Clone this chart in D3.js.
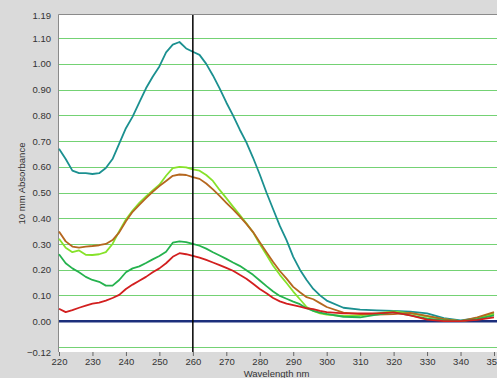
<!DOCTYPE html>
<html>
<head>
<meta charset="utf-8">
<script src="https://cdn.jsdelivr.net/npm/d3@7"></script>
<style>
  html, body { margin: 0; padding: 0; background: #dadada; }
  svg { display: block; font-family: "Liberation Sans", Arial, sans-serif; }
</style>
</head>
<body>
<script>
// wavelengths shared by every trace (nm)
const wavelengths = [220,222,224,226,228,230,232,234,236,238,240,242,244,246,248,250,252,254,256,258,260,
  262,264,266,268,270,272,274,276,278,280,282,284,286,288,290,292,294,296,298,300,305,310,315,320,325,330,335,340,345,350];

const tealTrace = [0.67,0.63,0.585,0.575,0.575,0.572,0.575,0.595,0.63,0.69,0.75,0.795,0.85,0.905,0.95,0.99,1.045,1.075,1.085,1.06,1.047,
  1.035,1.0,0.955,0.905,0.85,0.80,0.745,0.695,0.635,0.57,0.50,0.435,0.37,0.315,0.25,0.20,0.16,0.125,0.10,0.08,0.052,0.045,0.042,0.04,0.037,0.03,0.012,0.003,0.012,0.03];
const limeTrace = [0.32,0.285,0.268,0.275,0.258,0.257,0.26,0.268,0.30,0.35,0.395,0.43,0.46,0.485,0.508,0.53,0.565,0.595,0.60,0.598,0.59,
  0.585,0.568,0.545,0.51,0.478,0.445,0.413,0.38,0.345,0.30,0.258,0.215,0.18,0.148,0.115,0.085,0.055,0.04,0.03,0.025,0.02,0.022,0.03,0.038,0.03,0.018,0.008,0.0,0.01,0.028];
const brownTrace = [0.348,0.31,0.29,0.286,0.29,0.292,0.295,0.30,0.315,0.345,0.388,0.425,0.452,0.478,0.503,0.525,0.545,0.565,0.57,0.568,0.56,
  0.553,0.535,0.512,0.487,0.46,0.434,0.407,0.378,0.346,0.307,0.268,0.23,0.195,0.165,0.133,0.112,0.093,0.085,0.07,0.055,0.033,0.027,0.025,0.027,0.032,0.02,0.008,0.0,0.015,0.035];
const greenTrace = [0.26,0.225,0.205,0.19,0.172,0.16,0.153,0.138,0.138,0.16,0.19,0.205,0.213,0.226,0.24,0.253,0.27,0.305,0.31,0.307,0.30,
  0.293,0.282,0.268,0.255,0.242,0.228,0.215,0.198,0.18,0.158,0.136,0.115,0.098,0.087,0.076,0.066,0.05,0.04,0.033,0.028,0.017,0.015,0.025,0.035,0.022,0.01,0.003,0.0,0.008,0.022];
const redTrace = [0.048,0.035,0.043,0.052,0.06,0.068,0.072,0.08,0.09,0.102,0.125,0.142,0.157,0.172,0.19,0.205,0.225,0.25,0.264,0.26,0.254,
  0.247,0.238,0.228,0.218,0.207,0.196,0.18,0.165,0.145,0.125,0.108,0.09,0.077,0.068,0.062,0.056,0.05,0.047,0.04,0.035,0.03,0.03,0.03,0.034,0.022,0.006,0.0,0.0,0.005,0.015];

const traceNames = ["teal", "lime", "brown", "green", "red"];
const traceColors = ["#1b9090", "#86e22a", "#b5671f", "#25b24e", "#d21f1f"];
const traces = [tealTrace, limeTrace, brownTrace, greenTrace, redTrace];

const xTicks = [220,230,240,250,260,270,280,290,300,310,320,330,340,350];
const yTicks = [1.19,1.10,1.00,0.90,0.80,0.70,0.60,0.50,0.40,0.30,0.20,0.10,0.00,-0.12];
const gridValues = [1.1,1.0,0.9,0.8,0.7,0.6,0.5,0.4,0.3,0.2,0.1,-0.1];
const markerWavelength = 260;

const width = 497, height = 378;
const margin = { top: 15, right: 3, bottom: 26, left: 59 };

const xScale = d3.scaleLinear().domain([220, 350]).range([margin.left, width - margin.right]);
const yScale = d3.scaleLinear().domain([-0.12, 1.19]).range([height - margin.bottom, margin.top]);

const svg = d3.select("body").append("svg")
  .attr("width", width)
  .attr("height", height)
  .attr("viewBox", [0, 0, width, height]);

// grey backdrop and white plotting area
svg.append("rect").attr("width", width).attr("height", height).attr("fill", "#dadada");
svg.append("rect")
  .attr("x", margin.left)
  .attr("y", margin.top)
  .attr("width", width - margin.left - margin.right + 10)
  .attr("height", height - margin.bottom - margin.top)
  .attr("fill", "#ffffff");

// plot border (left + top)
svg.append("path")
  .attr("d", `M${margin.left - 0.5},${height - margin.bottom}V${margin.top - 0.5}H${width}`)
  .attr("fill", "none")
  .attr("stroke", "#8a8a8a")
  .attr("stroke-width", 1);

// horizontal green grid
svg.append("g")
  .selectAll("line")
  .data(gridValues)
  .join("line")
  .attr("x1", margin.left)
  .attr("x2", width)
  .attr("y1", (d) => Math.round(yScale(d)) + 0.5)
  .attr("y2", (d) => Math.round(yScale(d)) + 0.5)
  .attr("stroke", "#74d274")
  .attr("stroke-width", 1.2);

// y axis labels
const yAxis = d3.axisLeft(yScale)
  .tickValues(yTicks)
  .tickSize(0)
  .tickPadding(8)
  .tickFormat(d3.format(".2f"));
svg.append("g")
  .attr("transform", `translate(${margin.left},0)`)
  .call(yAxis)
  .call((g) => g.select(".domain").remove())
  .call((g) => g.selectAll("text")
    .attr("font-size", 9.5)
    .attr("fill", "#333")
    .attr("font-family", "Liberation Sans, Arial, sans-serif"));

// x axis
const xAxis = d3.axisBottom(xScale)
  .tickValues(xTicks)
  .tickSize(4)
  .tickPadding(2)
  .tickFormat(d3.format("d"));
svg.append("g")
  .attr("transform", `translate(0,${height - margin.bottom})`)
  .call(xAxis)
  .call((g) => g.select(".domain").remove())
  .call((g) => g.selectAll(".tick line").attr("stroke", "#666"))
  .call((g) => g.selectAll("text")
    .attr("font-size", 9.5)
    .attr("fill", "#333")
    .attr("font-family", "Liberation Sans, Arial, sans-serif"));

// zero baseline
svg.append("line")
  .attr("x1", margin.left)
  .attr("x2", width)
  .attr("y1", yScale(0))
  .attr("y2", yScale(0))
  .attr("stroke", "#1c2f7c")
  .attr("stroke-width", 2.5);

// spectra
const line = d3.line()
  .x((d, i) => xScale(wavelengths[i]))
  .y((d) => yScale(d));

svg.append("g")
  .selectAll("path")
  .data(traces)
  .join("path")
  .attr("class", (d, i) => "trace " + traceNames[i])
  .attr("d", line)
  .attr("fill", "none")
  .attr("stroke", (d, i) => traceColors[i])
  .attr("stroke-width", 1.8)
  .attr("stroke-linejoin", "round");

// vertical marker at 260 nm
svg.append("line")
  .attr("x1", xScale(markerWavelength))
  .attr("x2", xScale(markerWavelength))
  .attr("y1", margin.top)
  .attr("y2", height - margin.bottom)
  .attr("stroke", "#000")
  .attr("stroke-width", 1.5);

// axis titles
svg.append("text")
  .attr("transform", `translate(25,${(margin.top + height - margin.bottom) / 2}) rotate(-90)`)
  .attr("text-anchor", "middle")
  .attr("font-size", 9.5)
  .attr("fill", "#333")
  .text("10 mm Absorbance");

svg.append("text")
  .attr("x", (margin.left + width - margin.right) / 2)
  .attr("y", height - 1)
  .attr("text-anchor", "middle")
  .attr("font-size", 9.5)
  .attr("fill", "#333")
  .text("Wavelength nm");
</script>
</body>
</html>
